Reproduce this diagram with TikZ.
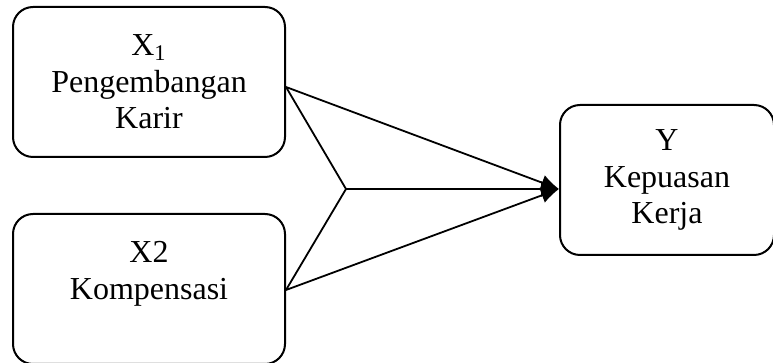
\documentclass[tikz,border=0pt]{standalone}
\usepackage{fontspec}
\setmainfont{Liberation Serif}
\usetikzlibrary{arrows.meta}
\tikzset{
  var/.style={draw, line width=1pt, rounded corners=10pt, align=center,
    minimum width=136pt, font=\fontsize{16}{18.3}\selectfont},
  link/.style={line width=0.9pt}
}
\begin{document}
\begin{tikzpicture}[x=0.5pt, y=-0.5pt]
      \useasboundingbox (0, 0) rectangle (773, 363);
      \node [var, minimum height=75pt] (karir) at (149, 82) {X\textsubscript{1}\\Pengembangan\\Karir};
      \node [var, minimum height=75pt] (kompensasi) at (149, 289) {X2\\Kompensasi\\\mbox{}};
      \node [var, minimum width=107pt, minimum height=75pt] (kepuasan) at (667, 180) {Y\\Kepuasan\\Kerja};
      \coordinate (join) at (346, 189);
      \coordinate (tip) at (kepuasan.west |- join);
      \coordinate (a) at (karir.east |- 0, 87);
      \coordinate (b) at (kompensasi.east |- 0, 290);
      \draw [link] (a) -- (join);
      \draw [link] (b) -- (join);
      \draw [link, -{Latex[length=9pt, width=8pt]}] (join) -- (tip);
      \draw [link, -{Latex[length=9pt, width=8pt]}] (a) -- (tip);
      \draw [link, -{Latex[length=9pt, width=8pt]}] (b) -- (tip);
    \end{tikzpicture}
\end{document}
